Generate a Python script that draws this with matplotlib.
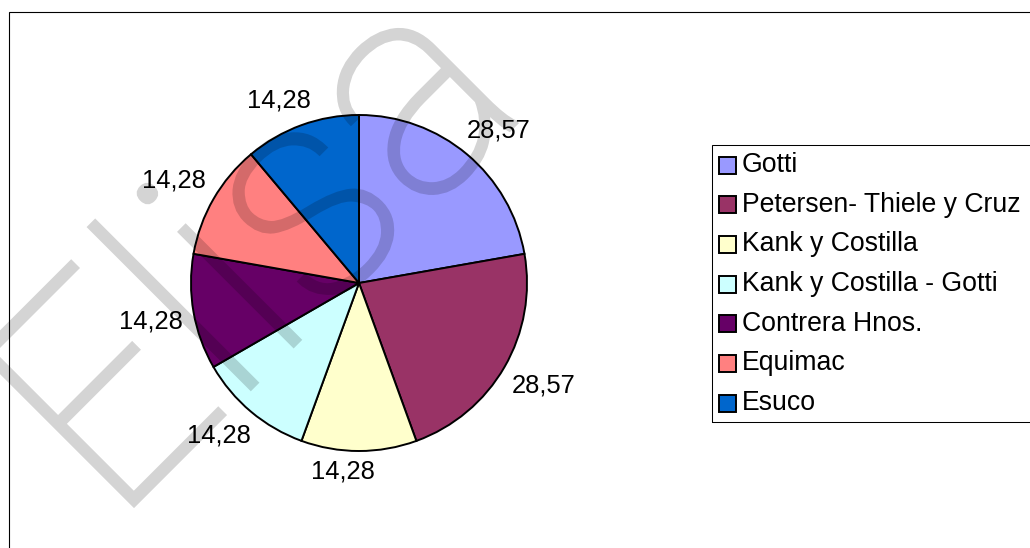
import numpy as np
import matplotlib
matplotlib.use("Agg")
import matplotlib.pyplot as plt
from matplotlib.patches import Rectangle, PathPatch
from matplotlib.textpath import TextPath
from matplotlib.font_manager import FontProperties
from matplotlib.transforms import Affine2D

categories = ["Gotti", "Petersen- Thiele y Cruz", "Kank y Costilla",
              "Kank y Costilla - Gotti", "Contrera Hnos.", "Equimac", "Esuco"]
values = [28.57, 28.57, 14.28, 14.28, 14.28, 14.28, 14.28]
colors = ["#9999FF", "#993366", "#FFFFCC", "#CCFFFF", "#660066", "#FF8080", "#0066CC"]
value_labels = [f"{v:.2f}".replace(".", ",") for v in values]
watermark = "Elisa"

W, H = 1030, 548
plt.rcParams['font.family'] = ['Liberation Sans', 'DejaVu Sans']
fig = plt.figure(figsize=(W / 100, H / 100), dpi=100)
ax = fig.add_axes([0, 0, 1, 1])

cx, cy, R = 359, H - 283, 168
wedges, _ = ax.pie(values, colors=colors, startangle=90, counterclock=False,
                   center=(cx, cy), radius=R,
                   wedgeprops=dict(edgecolor="black", linewidth=1.4))
ax.set_xlim(0, W)
ax.set_ylim(0, H)
ax.set_aspect("auto")
ax.axis("off")

# data labels outside the slices
fs_lab = 18.4
fs_leg = 19.2
total = sum(values)
cum = 0.0
tw, th = 64, 20
gap = 9
for v, lab in zip(values, value_labels):
    mid = 90 - (cum + v / 2) / total * 360
    cum += v
    t = np.deg2rad(mid)
    c, s = np.cos(t), np.sin(t)
    ext = tw / 2 * abs(c) + th / 2 * abs(s)
    d = R + gap + ext
    p1 = np.array([cx + d * c, cy + d * s])
    p2 = np.array([cx + (R + 12) * c + np.sign(np.round(c, 6)) * tw / 2,
                   cy + (R + 12) * s + np.sign(np.round(s, 6)) * th / 2])
    p = (p1 + p2) / 2
    ax.text(p[0], p[1], lab, ha="center", va="center",
            fontsize=fs_lab, color="black")

# outer chart frame
fig.patches.append(Rectangle((8.5 / W, -0.1), 1.2, 1.1 - 12.5 / H,
                             transform=fig.transFigure, fill=False,
                             edgecolor="black", linewidth=0.8))

# legend
lx0, ly0 = 711.5, 144.5
fig.patches.append(Rectangle((lx0 / W, 1 - 422 / H), 0.5, (422 - ly0) / H,
                             transform=fig.transFigure, fill=False,
                             edgecolor="black", linewidth=0.75))
row0, step = 165, 39.7
sq = 17
for i, (c, name) in enumerate(zip(colors, categories)):
    yc = row0 + i * step
    fig.patches.append(Rectangle((719 / W, 1 - (yc + sq / 2) / H), sq / W, sq / H,
                                 transform=fig.transFigure, facecolor=c,
                                 edgecolor="black", linewidth=1.4))
    fig.text(742 / W, 1 - yc / H, name, ha="left", va="center", fontsize=fs_leg,
             color="black")

# watermark (translucent, drawn over the chart)
fp = FontProperties(family="Roboto", weight=250)
tp = TextPath((0, 0), watermark, size=100, prop=fp)
ep = TextPath((0, 0), watermark[0], size=100, prop=fp)
wext = tp.get_extents()
eext = ep.get_extents()
sx = 540 / (wext.x1 - wext.x0)
sy = 216 / eext.y1
tr = (Affine2D().translate(-wext.x0, 0).scale(sx, sy).rotate_deg(45)
      .translate(134, H - 505) + ax.transData)


def fade(im, dpi):
    out = im.copy()
    out[..., :3] = 0.0
    out[..., 3] = out[..., 3] * 0.17
    return out, 0, 0


wm = PathPatch(tp, facecolor="black", edgecolor="black", linewidth=3.2,
               transform=tr, zorder=10, clip_on=False)
wm.set_agg_filter(fade)
ax.add_patch(wm)

fig.savefig("out.png", dpi=100, facecolor="white")
